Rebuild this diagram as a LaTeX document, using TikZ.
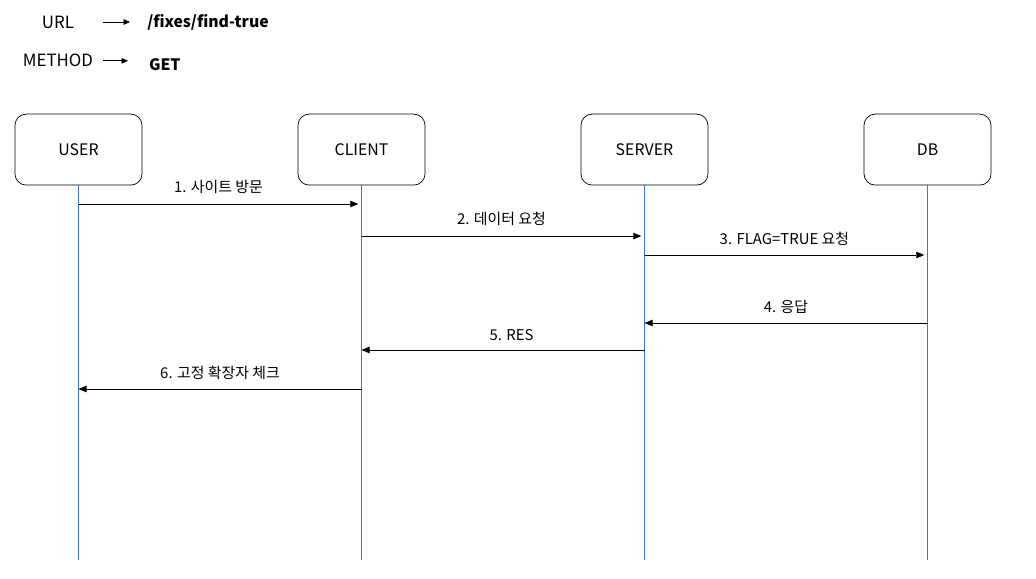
\documentclass[tikz,border=0pt]{standalone}
\usepackage{fontspec}
\setmainfont{Noto Sans CJK KR}
\usepackage{tikz}
\usetikzlibrary{arrows.meta,positioning,calc}
\usepackage{xcolor}
\definecolor{linhaazul}{RGB}{68,114,196}

\begin{document}
\begin{tikzpicture}[font=\fontsize{11.3}{13}\selectfont,
    ator/.style={draw, rounded corners=8pt, minimum width=3.175cm, minimum height=1.775cm, line width=0.5pt},
    vida/.style={draw=linhaazul, line width=0.7pt},
    msg/.style={-{Triangle[length=2mm, width=1.6mm]}, line width=0.5pt},
    rot/.style={font=\fontsize{10.6}{12}\selectfont}]
        \useasboundingbox (0,0) rectangle (25.9,-14.475);

        % Header
        \node[font=\fontsize{12}{14}\selectfont] (url) at (1.45,-0.55) {URL};
        \node[font=\fontsize{11.2}{13}\selectfont\bfseries] (path) at (5.2,-0.55) {/fixes/find-true};
        \draw[-{Triangle[length=1.6mm, width=1.4mm]}, line width=0.5pt] (2.57,-0.55) -- (3.25,-0.55);
        \node[font=\fontsize{12}{14}\selectfont] (method) at (1.45,-1.52) {METHOD};
        \node[font=\fontsize{11.2}{13}\selectfont\bfseries] (get) at (4.12,-1.62) {GET};
        \draw[-{Triangle[length=1.6mm, width=1.4mm]}, line width=0.5pt] (2.57,-1.52) -- (3.2,-1.52);

        % Participants
        \node[ator] (user) at (1.9625,-3.74) {USER};
        \node[ator] (client) at (9.0375,-3.74) {CLIENT};
        \node[ator] (server) at (16.1125,-3.74) {SERVER};
        \node[ator] (db) at (23.1875,-3.74) {DB};

        % Lifelines
        \coordinate (fim) at (0,-14.0);
        \draw[vida] (user.south) -- (user.south |- fim);
        \draw[vida] (client.south) -- (client.south |- fim);
        \draw[vida] (server.south) -- (server.south |- fim);
        \draw[vida] (db.south) -- (db.south |- fim);

        % Messages
        \coordinate (m1) at (0,-5.1);
        \coordinate (m2) at (0,-5.9);
        \coordinate (m3) at (0,-6.375);
        \coordinate (m4) at (0,-8.075);
        \coordinate (m5) at (0,-8.75);
        \coordinate (m6) at (0,-9.725);

        \draw[msg] (user.south |- m1) -- ([xshift=-0.08cm]client.south |- m1) node[rot, midway, above=4pt] {1. 사이트 방문};
        \draw[msg] (client.south |- m2) -- ([xshift=-0.08cm]server.south |- m2) node[rot, midway, above=4pt] {2. 데이터 요청};
        \draw[msg] (server.south |- m3) -- ([xshift=-0.08cm]db.south |- m3) node[rot, midway, above=3pt] {3. FLAG=TRUE 요청};
        \draw[msg] (db.south |- m4) -- (server.south |- m4) node[rot, midway, above=3pt] {4. 응답};
        \draw[msg] (server.south |- m5) -- (client.south |- m5) node[rot, pos=0.47, above=3pt] {5. RES};
        \draw[msg] (client.south |- m6) -- (user.south |- m6) node[rot, midway, above=3pt] {6. 고정 확장자 체크};

    \end{tikzpicture}
\end{document}
